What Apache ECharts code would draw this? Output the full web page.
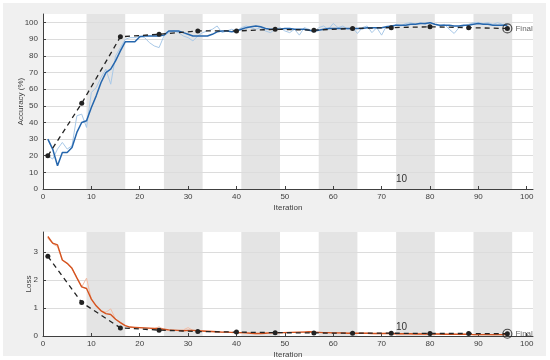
<!DOCTYPE html>
<html><head><meta charset="utf-8">
<script src="https://cdn.jsdelivr.net/npm/echarts@6/dist/echarts.min.js"></script>
<style>html,body{margin:0;padding:0;background:#fff}#c{width:550px;height:360px}</style>
</head><body><div id="c"></div>
<script>
// ---- data ----
const iterations = Array.from({length: 96}, (_, i) => i + 1);
const accSmooth = [30,24,14,22,22,25,34,40,41,49,56,64,70,72,77,83,88.5,88.5,88.5,91.5,92,92,92,92,92.5,95,95,95,94,93,92,92,92,92,93,94.5,95,95,94.5,95,96,97,97.5,98,97.5,96.5,96,96,96,96.5,96.5,96,96,96,95.5,95,95.5,96,96.5,96.5,96.5,96.5,96.5,96.5,96.5,96.5,97,97,97,97,97.5,98,98.5,98.5,98.5,99,99,99.5,99.5,100,99,98.5,98.5,98.5,98,98,98.5,98.5,99,99.5,99,99,98.5,98.5,98.5,98.5];
const accRaw = [20,18,24,28,24,26,44,45,37,58,61,67,72,63,80,85,90,91,91,92,91,88,86,85,92,94,95,94,92,91,89,92,94,95,96,98,94,95,96,95,97,98,97,96,97,95,94,96,97,95,94,96,92.5,97,96,94,97,98,96,99.5,97,98,96,97,93.5,97,98,94,97,92.5,98,97,99,98,99.5,100,99,100,99,100,99,98,99,96,93.5,97,98,99,100,100,99.5,100,99,100,99,99];
const valIters = [1,8,16,24,32,40,48,56,64,72,80,88,96];
const valAcc = [20,51.5,91.5,93,95,95,96,95.5,96.5,97,97.5,97,96.5];
const lossSmooth = [3.56,3.32,3.26,2.72,2.6,2.42,2.08,1.76,1.7,1.32,1.08,0.9,0.8,0.77,0.6,0.48,0.37,0.32,0.31,0.3,0.29,0.28,0.27,0.26,0.24,0.22,0.21,0.2,0.19,0.2,0.2,0.19,0.18,0.17,0.16,0.15,0.14,0.14,0.13,0.12,0.12,0.11,0.1,0.09,0.09,0.1,0.11,0.12,0.12,0.12,0.13,0.13,0.14,0.14,0.15,0.14,0.13,0.12,0.12,0.11,0.11,0.11,0.1,0.1,0.1,0.1,0.1,0.09,0.09,0.09,0.09,0.09,0.08,0.08,0.08,0.08,0.07,0.07,0.07,0.07,0.07,0.07,0.06,0.06,0.06,0.06,0.06,0.06,0.05,0.05,0.05,0.05,0.05,0.05,0.05,0.05];
const lossRaw = [3.5,3.3,3.2,2.7,2.6,2.4,2.1,1.75,2.07,1.3,1.05,0.9,0.85,0.97,0.6,0.47,0.36,0.3,0.3,0.29,0.28,0.27,0.26,0.33,0.23,0.21,0.2,0.19,0.22,0.3,0.2,0.18,0.17,0.16,0.15,0.15,0.13,0.14,0.12,0.12,0.11,0.11,0.09,0.08,0.09,0.11,0.12,0.12,0.11,0.13,0.12,0.14,0.13,0.15,0.16,0.13,0.12,0.12,0.11,0.12,0.1,0.11,0.1,0.11,0.09,0.1,0.1,0.09,0.08,0.09,0.1,0.08,0.08,0.07,0.08,0.07,0.07,0.08,0.06,0.07,0.07,0.06,0.07,0.06,0.06,0.05,0.06,0.06,0.05,0.05,0.06,0.05,0.04,0.05,0.05,0.05];
const valLoss = [2.85,1.2,0.29,0.21,0.16,0.14,0.12,0.11,0.1,0.1,0.09,0.09,0.08];
const epochBands = [[9,17],[25,33],[41,49],[57,65],[73,81],[89,97]];
const xTicks = [0,10,20,30,40,50,60,70,80,90,100];
const accTicks = [0,10,20,30,40,50,60,70,80,90,100];
const lossTicks = [0,1,2,3];
const finalLabel = 'Final';
const epochText = '10';

// ---- chart ----
const chart = echarts.init(document.getElementById('c'), null, {renderer: 'canvas'});
const pairs = (xs, ys) => xs.map((x, i) => [x, ys[i]]);
const font = 'Arial, Liberation Sans, sans-serif';
const txt = '#404040';
const gridDefs = [
  {left: 43, top: 14, width: 490, height: 175},
  {left: 43, top: 232, width: 490, height: 104}
];
function xAx(idx) {
  return {
    gridIndex: idx, type: 'value', min: 0, max: 101.3,
    name: 'Iteration', nameLocation: 'middle', nameGap: 15, nameMoveOverlap: false,
    nameTextStyle: {fontSize: 8, color: txt, fontFamily: font},
    axisLine: {show: true, lineStyle: {color: '#404040', width: 1}},
    axisTick: {show: true, inside: true, length: 3, customValues: xTicks, lineStyle: {color: '#404040'}},
    axisLabel: {customValues: xTicks, fontSize: 8, color: txt, fontFamily: font, margin: 4},
    splitLine: {show: false}, z: 1.5
  };
}
function yAx(idx, max, ticks, name, gap) {
  return {
    gridIndex: idx, type: 'value', min: 0, max: max,
    name: name, nameLocation: 'middle', nameGap: gap, nameMoveOverlap: false,
    nameTextStyle: {fontSize: 8, color: txt, fontFamily: font},
    axisLine: {show: true, lineStyle: {color: '#404040', width: 1}},
    axisTick: {show: true, inside: true, length: 3, customValues: ticks, lineStyle: {color: '#404040'}},
    axisLabel: {customValues: ticks, fontSize: 8, color: txt, fontFamily: font, margin: 5},
    splitLine: {show: true, lineStyle: {color: '#dcdcdc', width: 1}},
    z: 1.5
  };
}
const bandArea = {
  silent: true,
  itemStyle: {color: '#e4e4e4'},
  data: epochBands.map(b => [{xAxis: b[0]}, {xAxis: b[1]}])
};
function bandSeries(idx) {
  return {type: 'line', xAxisIndex: idx, yAxisIndex: idx, data: [], z: 1, silent: true, markArea: bandArea};
}
function valSeries(idx, vals) {
  return {
    type: 'line', xAxisIndex: idx, yAxisIndex: idx, data: pairs(valIters, vals), z: 4,
    symbol: 'circle', symbolSize: 5, showSymbol: true,
    itemStyle: {color: '#222'}, lineStyle: {color: '#222', width: 1.3, type: [5, 4]}
  };
}
function finalSeries(idx, vals) {
  return {
    type: 'scatter', xAxisIndex: idx, yAxisIndex: idx, z: 5,
    data: [[valIters[valIters.length - 1], vals[vals.length - 1]]],
    symbol: 'circle', symbolSize: 9,
    itemStyle: {color: 'rgba(0,0,0,0)', borderColor: '#222', borderWidth: 1.2},
    label: {show: true, position: 'right', distance: 3, formatter: finalLabel, fontSize: 8, color: txt, fontFamily: font}
  };
}
chart.setOption({
  animation: false,
  backgroundColor: '#ffffff',
  graphic: [
    {type: 'rect', shape: {x: 3, y: 3, width: 543, height: 353}, style: {fill: '#f0f0f0'}, z: -10, silent: true},
    {type: 'text', left: 396, top: 174, style: {text: epochText, fontSize: 10, fill: '#333', fontFamily: font}, z: 10},
    {type: 'text', left: 396, top: 322, style: {text: epochText, fontSize: 10, fill: '#333', fontFamily: font}, z: 10}
  ],
  grid: gridDefs.map(g => Object.assign({show: true, backgroundColor: '#ffffff', borderWidth: 0}, g)),
  xAxis: [xAx(0), xAx(1)],
  yAxis: [yAx(0, 105.2, accTicks, 'Accuracy (%)', 18), yAx(1, 3.72, lossTicks, 'Loss', 10)],
  series: [
    bandSeries(0), bandSeries(1),
    {type: 'line', xAxisIndex: 0, yAxisIndex: 0, data: pairs(iterations, accRaw), z: 2, showSymbol: false, symbol: 'none',
     lineStyle: {color: '#a9c9e8', width: 1}},
    {type: 'line', xAxisIndex: 0, yAxisIndex: 0, data: pairs(iterations, accSmooth), z: 3, showSymbol: false, symbol: 'none',
     lineStyle: {color: '#2566ad', width: 1.5}},
    valSeries(0, valAcc), finalSeries(0, valAcc),
    {type: 'line', xAxisIndex: 1, yAxisIndex: 1, data: pairs(iterations, lossRaw), z: 2, showSymbol: false, symbol: 'none',
     lineStyle: {color: '#f2bca4', width: 1}},
    {type: 'line', xAxisIndex: 1, yAxisIndex: 1, data: pairs(iterations, lossSmooth), z: 3, showSymbol: false, symbol: 'none',
     lineStyle: {color: '#d4531f', width: 1.4}},
    valSeries(1, valLoss), finalSeries(1, valLoss)
  ]
});
</script></body></html>
